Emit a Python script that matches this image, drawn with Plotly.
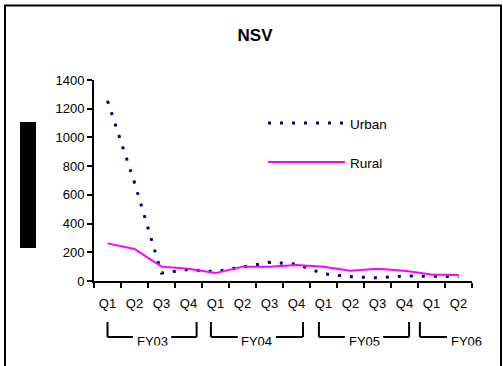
import plotly.graph_objects as go

# ---- data -------------------------------------------------------------
quarters = ["Q1", "Q2", "Q3", "Q4", "Q1", "Q2", "Q3", "Q4",
            "Q1", "Q2", "Q3", "Q4", "Q1", "Q2"]
fiscal_years = ["FY03", "FY04", "FY05", "FY06"]
urban = [1255, 685, 55, 80, 65, 100, 130, 118, 50, 30, 22, 35, 35, 30]
rural = [262, 223, 100, 85, 55, 100, 100, 112, 100, 72, 85, 72, 45, 42]

# ---- layout geometry ----------------------------------------------------
W, H = 503, 366
PL, PR, PT, PB = 94, 472, 80, 281          # plot-area edges in pixels
FONT = "Liberation Sans, Arial, sans-serif"


def px_x(px):
    return (px - PL) / (PR - PL)


def px_y(py):
    return (PB - py) / (PB - PT)


idx = list(range(len(quarters)))

fig = go.Figure()
fig.add_trace(go.Scatter(
    x=idx, y=urban, name="Urban", mode="lines",
    line=dict(color="#000080", width=3, dash="3px,9px"),
))
fig.add_trace(go.Scatter(
    x=idx, y=rural, name="Rural", mode="lines",
    line=dict(color="#FF00FF", width=2),
))

shapes = []
annotations = []

# outer chart frame
shapes.append(dict(type="rect", xref="paper", yref="paper",
                   x0=px_x(5), x1=px_x(501), y0=px_y(390), y1=px_y(5.5),
                   line=dict(color="black", width=2), fillcolor="rgba(0,0,0,0)"))
# axis-title block
shapes.append(dict(type="rect", xref="paper", yref="paper",
                   x0=px_x(20), x1=px_x(36), y0=px_y(248), y1=px_y(122),
                   line=dict(width=0), fillcolor="black"))

# legend drawn as sample lines with labels
for label, color, dash, width, py in [("Urban", "#000080", "3px,9px", 3, 123),
                                      ("Rural", "#FF00FF", "solid", 2, 162)]:
    shapes.append(dict(type="line", xref="paper", yref="paper",
                       x0=px_x(268), x1=px_x(345), y0=px_y(py), y1=px_y(py),
                       line=dict(color=color, width=width, dash=dash)))
    annotations.append(dict(text=label, xref="paper", yref="paper",
                            x=px_x(348), y=px_y(py + 1), xanchor="left", yanchor="middle",
                            showarrow=False, font=dict(family=FONT, size=13.5, color="black")))

# fiscal-year brackets under the quarter labels
bracket_edges = [(0.0, 3.3), (3.83, 7.24), (7.83, 11.17), (11.57, 14.99)]
gap = 0.71
y_top, y_bot = px_y(322), px_y(337)
x_max = len(quarters) - 0.5
for fy, (a, b) in zip(fiscal_years, bracket_edges):
    c = (a + b) / 2
    segs = [((a, y_top), (a, y_bot)), ((a, y_bot), (c - gap, y_bot)),
            ((c + gap, y_bot), (b, y_bot)), ((b, y_bot), (b, y_top))]
    for (x0, y0), (x1, y1) in segs:
        if max(x0, x1) > x_max:
            continue
        shapes.append(dict(type="line", xref="x", yref="paper",
                           x0=x0, x1=x1, y0=y0, y1=y1,
                           line=dict(color="black", width=2)))
    annotations.append(dict(text=fy, xref="x", yref="paper", x=c, y=px_y(333),
                            xanchor="center", yanchor="top", valign="top",
                            height=11.6, borderpad=0, showarrow=False,
                            font=dict(family=FONT, size=13, color="black")))

fig.update_layout(
    width=W, height=H,
    margin=dict(l=PL, r=W - PR, t=PT, b=H - PB, pad=0),
    paper_bgcolor="white", plot_bgcolor="white",
    showlegend=False,
    font=dict(family=FONT, size=13, color="black"),
    title=dict(text="<b>NSV</b>", xref="container", yref="container",
               x=255 / W, y=1 - 35 / H, xanchor="center", yanchor="middle",
               font=dict(family=FONT, size=17, color="black")),
    xaxis=dict(
        range=[-0.5, len(quarters) - 0.5], showgrid=False, zeroline=False,
        tickmode="array", tickvals=idx, ticktext=quarters, ticks="",
        ticklabelstandoff=9,
        showline=True, linecolor="black", linewidth=2,
        minor=dict(ticks="outside", tick0=-0.5, dtick=1, ticklen=5,
                   tickwidth=2, tickcolor="black"),
        tickfont=dict(family=FONT, size=13, color="black"),
    ),
    yaxis=dict(
        range=[0, 1400], dtick=200, showgrid=False, zeroline=False,
        ticks="outside", ticklen=5, tickwidth=2, tickcolor="black",
        showline=True, linecolor="black", linewidth=2,
        tickfont=dict(family=FONT, size=13, color="black"),
    ),
    shapes=shapes,
    annotations=annotations,
)

fig.write_html("out.html")
